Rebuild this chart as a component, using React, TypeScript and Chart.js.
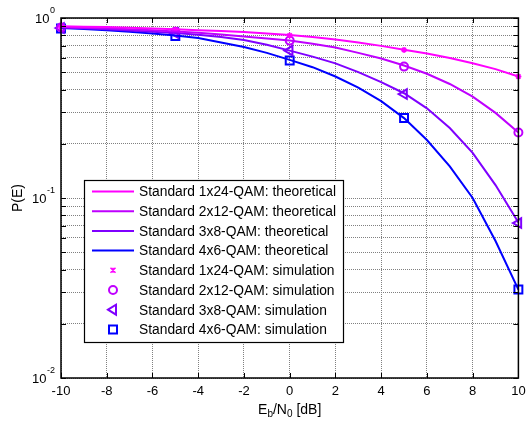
import React, { useEffect, useRef } from 'react';
import { Chart, registerables } from 'chart.js';

Chart.register(...registerables);

// ---- Data ----
const snrTheory = [-10, -9, -8, -7, -6, -5, -4, -3, -2, -1, 0, 1, 2, 3, 4, 5, 6, 7, 8, 9, 10];
const theory1x24 = [0.9, 0.895, 0.89, 0.882, 0.875, 0.865, 0.856, 0.846, 0.835, 0.82, 0.805, 0.785, 0.76, 0.73, 0.7, 0.667, 0.635, 0.6, 0.561, 0.52, 0.473];
const theory2x12 = [0.89, 0.884, 0.876, 0.866, 0.855, 0.842, 0.827, 0.81, 0.79, 0.77, 0.749, 0.72, 0.685, 0.64, 0.595, 0.545, 0.49, 0.43, 0.366, 0.297, 0.231];
const theory3x8 = [0.885, 0.876, 0.866, 0.853, 0.84, 0.826, 0.808, 0.785, 0.755, 0.71, 0.659, 0.61, 0.56, 0.5, 0.44, 0.382, 0.315, 0.245, 0.178, 0.118, 0.073];
const theory4x6 = [0.88, 0.87, 0.855, 0.84, 0.82, 0.8, 0.775, 0.73, 0.69, 0.64, 0.585, 0.533, 0.473, 0.41, 0.345, 0.278, 0.21, 0.15, 0.1, 0.0577, 0.031];

const snrSim = [-10, -5, 0, 5, 10];
const sim1x24 = [0.89, 0.86, 0.8, 0.665, 0.473];
const sim2x12 = [0.885, 0.84, 0.749, 0.537, 0.231];
const sim3x8 = [0.88, 0.825, 0.659, 0.378, 0.0726];
const sim4x6 = [0.875, 0.795, 0.58, 0.278, 0.031];

const xTickValues = [-10, -8, -6, -4, -2, 0, 2, 4, 6, 8, 10];
const yDecades = [1, 0.1, 0.01];
const yDecadeExponents = ['0', '-1', '-2'];
const yMinorTicks = [0.01, 0.02, 0.03, 0.04, 0.05, 0.06, 0.07, 0.08, 0.09, 0.1, 0.2, 0.3, 0.4, 0.5, 0.6, 0.7, 0.8, 0.9, 1];

const seriesNames = ['Standard 1x24-QAM', 'Standard 2x12-QAM', 'Standard 3x8-QAM', 'Standard 4x6-QAM'];
const seriesColors = ['#ff00ff', '#bf00ff', '#7f00ff', '#0000ff'];
const markerStyles = ['star', 'circle', 'triangle', 'rect'];

const FONT = '"Liberation Sans", Arial, sans-serif';

function pairs(xs: number[], ys: number[]) {
  return xs.map((x, i) => ({ x, y: ys[i] }));
}

function drawMarker(ctx: CanvasRenderingContext2D, style: string, x: number, y: number, color: string) {
  ctx.save();
  ctx.strokeStyle = color;
  ctx.lineWidth = 2;
  ctx.beginPath();
  if (style === 'star') {
    const r = 2.5;
    ctx.lineWidth = 1.5;
    ctx.moveTo(x - r, y - r); ctx.lineTo(x + r, y + r);
    ctx.moveTo(x - r, y + r); ctx.lineTo(x + r, y - r);
    ctx.moveTo(x, y - r); ctx.lineTo(x, y + r);
  } else if (style === 'circle') {
    ctx.arc(x, y, 4, 0, Math.PI * 2);
  } else if (style === 'triangle') {
    ctx.moveTo(x - 5, y);
    ctx.lineTo(x + 3, y - 5);
    ctx.lineTo(x + 3, y + 5);
    ctx.closePath();
  } else {
    ctx.rect(x - 4, y - 4, 8, 8);
  }
  ctx.stroke();
  ctx.restore();
}

const decorPlugin = {
  id: 'decor',
  afterDraw(chart: any) {
    const ctx: CanvasRenderingContext2D = chart.ctx;
    const area = chart.chartArea;
    const xs = chart.scales.x;
    const ys = chart.scales.y;
    ctx.save();

    // Axis box
    ctx.strokeStyle = '#000';
    ctx.lineWidth = 1.5;
    ctx.strokeRect(area.left, area.top, area.right - area.left, area.bottom - area.top);

    // Inward ticks
    ctx.lineWidth = 1;
    ctx.beginPath();
    xTickValues.forEach((v) => {
      const px = Math.round(xs.getPixelForValue(v)) + 0.5;
      ctx.moveTo(px, area.bottom); ctx.lineTo(px, area.bottom - 5);
      ctx.moveTo(px, area.top); ctx.lineTo(px, area.top + 5);
    });
    yMinorTicks.forEach((v) => {
      const py = Math.round(ys.getPixelForValue(v)) + 0.5;
      ctx.moveTo(area.left, py); ctx.lineTo(area.left + 5, py);
      ctx.moveTo(area.right, py); ctx.lineTo(area.right - 5, py);
    });
    ctx.stroke();

    // Y tick labels (10^k)
    ctx.fillStyle = '#000';
    yDecades.forEach((v, i) => {
      const py = ys.getPixelForValue(v);
      ctx.font = `9px ${FONT}`;
      const sup = yDecadeExponents[i];
      const w2 = ctx.measureText(sup).width;
      const right = area.left - 6;
      ctx.textAlign = 'left';
      ctx.textBaseline = 'alphabetic';
      ctx.fillText(sup, right - w2, py - 5);
      ctx.font = `13px ${FONT}`;
      ctx.textAlign = 'right';
      ctx.textBaseline = 'middle';
      ctx.fillText('10', right - w2 - 0.5, py + 1);
    });

    // X title: Eb/N0 [dB]
    const parts = [
      { t: 'E', sub: false },
      { t: 'b', sub: true },
      { t: '/N', sub: false },
      { t: '0', sub: true },
      { t: ' [dB]', sub: false },
    ];
    const mainSize = 14;
    const subSize = 10;
    let total = 0;
    parts.forEach((p) => {
      ctx.font = `${p.sub ? subSize : mainSize}px ${FONT}`;
      total += ctx.measureText(p.t).width;
    });
    let cx = (area.left + area.right) / 2 - total / 2;
    const base = 414;
    ctx.textAlign = 'left';
    ctx.textBaseline = 'alphabetic';
    parts.forEach((p) => {
      ctx.font = `${p.sub ? subSize : mainSize}px ${FONT}`;
      ctx.fillText(p.t, cx, p.sub ? base + 3 : base);
      cx += ctx.measureText(p.t).width;
    });

    // Y title
    ctx.save();
    ctx.translate(18, (area.top + area.bottom) / 2);
    ctx.rotate(-Math.PI / 2);
    ctx.font = `14px ${FONT}`;
    ctx.textAlign = 'center';
    ctx.textBaseline = 'middle';
    ctx.fillText('P(E)', 0, 0);
    ctx.restore();

    // Legend
    const lx = 84, ly = 180, lw = 259, lh = 162;
    ctx.fillStyle = '#fff';
    ctx.fillRect(lx, ly, lw, lh);
    ctx.strokeStyle = '#000';
    ctx.lineWidth = 1.2;
    ctx.strokeRect(lx + 0.5, ly + 0.5, lw, lh);
    const rowH = 19.7;
    const firstRow = 191.5;
    ctx.font = `13.8px ${FONT}`;
    ctx.textBaseline = 'middle';
    ctx.textAlign = 'left';
    seriesNames.forEach((name, i) => {
      const y = firstRow + i * rowH;
      ctx.strokeStyle = seriesColors[i];
      ctx.lineWidth = 2;
      ctx.beginPath();
      ctx.moveTo(92, y); ctx.lineTo(134, y);
      ctx.stroke();
      ctx.fillStyle = '#000';
      ctx.fillText(name + ': theoretical', 139, y + 1);
    });
    seriesNames.forEach((name, i) => {
      const y = firstRow + (i + 4) * rowH;
      drawMarker(ctx, markerStyles[i], 113, y, seriesColors[i]);
      ctx.fillStyle = '#000';
      ctx.fillText(name + ': simulation', 139, y + 1);
    });

    ctx.restore();
  },
};

export default function App() {
  const canvasRef = useRef<HTMLCanvasElement | null>(null);

  useEffect(() => {
    if (!canvasRef.current) return;
    const theories = [theory1x24, theory2x12, theory3x8, theory4x6];
    const sims = [sim1x24, sim2x12, sim3x8, sim4x6];
    const datasets: any[] = [];
    theories.forEach((t, i) => {
      datasets.push({
        label: seriesNames[i] + ': theoretical',
        data: pairs(snrTheory, t),
        showLine: true,
        borderColor: seriesColors[i],
        borderWidth: 2,
        pointRadius: 0,
        tension: 0,
        clip: false,
      });
    });
    sims.forEach((s, i) => {
      const style = markerStyles[i];
      datasets.push({
        label: seriesNames[i] + ': simulation',
        data: pairs(snrSim, s),
        showLine: false,
        borderColor: seriesColors[i],
        backgroundColor: 'rgba(0,0,0,0)',
        borderWidth: style === 'star' ? 1.5 : 2,
        pointStyle: style,
        pointRotation: style === 'triangle' ? -90 : 0,
        pointRadius: style === 'star' ? 3 : style === 'circle' ? 4 : style === 'triangle' ? 5.5 : 5.6,
        clip: false,
      });
    });

    const chart = new Chart(canvasRef.current, {
      type: 'scatter',
      data: { datasets },
      options: {
        animation: false,
        responsive: false,
        layout: { padding: { top: 18, right: 6, left: 0, bottom: 0 } },
        plugins: { legend: { display: false }, tooltip: { enabled: false } },
        scales: {
          x: {
            type: 'linear',
            min: -10,
            max: 10,
            afterBuildTicks: (scale: any) => {
              scale.ticks = xTickValues.map((v) => ({ value: v }));
            },
            afterFit: (scale: any) => {
              scale.height = 45;
              scale.paddingLeft = 0;
              scale.paddingRight = 0;
            },
            ticks: {
              color: '#000',
              font: { family: FONT, size: 13 },
              padding: 6,
              maxRotation: 0,
              callback: (v: any) => String(v),
            },
            grid: { color: '#808080', lineWidth: 1, drawTicks: false },
            border: { display: false, dash: [1, 1] },
          },
          y: {
            type: 'logarithmic',
            min: 0.01,
            max: 1,
            afterBuildTicks: (scale: any) => {
              scale.ticks = yMinorTicks.map((v) => ({ value: v }));
            },
            afterFit: (scale: any) => {
              scale.width = 61;
              scale.paddingTop = 0;
              scale.paddingBottom = 0;
            },
            ticks: { display: false },
            grid: { color: '#808080', lineWidth: 1, drawTicks: false },
            border: { display: false, dash: [1, 1] },
          },
        },
      } as any,
      plugins: [decorPlugin],
    });
    return () => chart.destroy();
  }, []);

  return (
    <div style={{ position: 'fixed', left: 0, top: 0, width: 526, height: 423, background: '#fff' }}>
      <canvas ref={canvasRef} width={526} height={423} />
    </div>
  );
}
